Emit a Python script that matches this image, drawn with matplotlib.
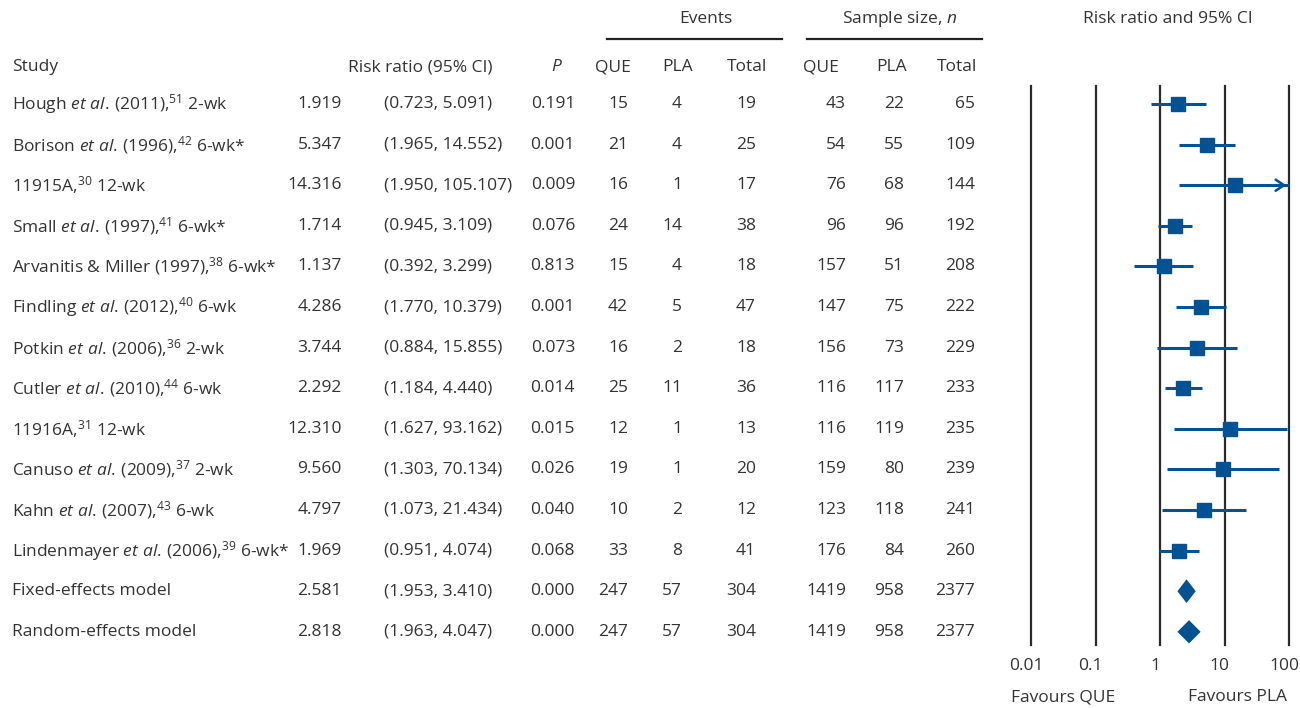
import matplotlib
matplotlib.use("Agg")
import matplotlib.pyplot as plt
from matplotlib.transforms import blended_transform_factory, ScaledTranslation
import numpy as np

plt.rcParams['font.family'] = ['Open Sans', 'DejaVu Sans']
plt.rcParams['mathtext.fontset'] = 'custom'
plt.rcParams['mathtext.rm'] = 'Open Sans'
plt.rcParams['mathtext.it'] = 'Open Sans:italic'
plt.rcParams['mathtext.bf'] = 'Open Sans:bold'

# ---------------- data ----------------
studies = [
    r"Hough $\mathit{et\ al.}\,$(2011),$^{51}$ 2-wk",
    r"Borison $\mathit{et\ al.}\,$(1996),$^{42}$ 6-wk*",
    r"11915A,$^{30}$ 12-wk",
    r"Small $\mathit{et\ al.}\,$(1997),$^{41}$ 6-wk*",
    r"Arvanitis & Miller (1997),$^{38}$ 6-wk*",
    r"Findling $\mathit{et\ al.}\,$(2012),$^{40}$ 6-wk",
    r"Potkin $\mathit{et\ al.}\,$(2006),$^{36}$ 2-wk",
    r"Cutler $\mathit{et\ al.}\,$(2010),$^{44}$ 6-wk",
    r"11916A,$^{31}$ 12-wk",
    r"Canuso $\mathit{et\ al.}\,$(2009),$^{37}$ 2-wk",
    r"Kahn $\mathit{et\ al.}\,$(2007),$^{43}$ 6-wk",
    r"Lindenmayer $\mathit{et\ al.}\,$(2006),$^{39}$ 6-wk*",
    "Fixed-effects model",
    "Random-effects model",
]
rr = [1.919, 5.347, 14.316, 1.714, 1.137, 4.286, 3.744, 2.292, 12.310, 9.560, 4.797, 1.969, 2.581, 2.818]
lo = [0.723, 1.965, 1.950, 0.945, 0.392, 1.770, 0.884, 1.184, 1.627, 1.303, 1.073, 0.951, 1.953, 1.963]
hi = [5.091, 14.552, 105.107, 3.109, 3.299, 10.379, 15.855, 4.440, 93.162, 70.134, 21.434, 4.074, 3.410, 4.047]
pval = ["0.191", "0.001", "0.009", "0.076", "0.813", "0.001", "0.073", "0.014", "0.015", "0.026", "0.040", "0.068", "0.000", "0.000"]
ev_que = [15, 21, 16, 24, 15, 42, 16, 25, 12, 19, 10, 33, 247, 247]
ev_pla = [4, 4, 1, 14, 4, 5, 2, 11, 1, 1, 2, 8, 57, 57]
ev_tot = [19, 25, 17, 38, 18, 47, 18, 36, 13, 20, 12, 41, 304, 304]
n_que = [43, 54, 76, 96, 157, 147, 156, 116, 116, 159, 123, 176, 1419, 1419]
n_pla = [22, 55, 68, 96, 51, 75, 73, 117, 119, 80, 118, 84, 958, 958]
n_tot = [65, 109, 144, 192, 208, 222, 229, 233, 235, 239, 241, 260, 2377, 2377]
n_models = 2
xticks = [0.01, 0.1, 1, 10, 100]
xticklabels = ["0.01", "0.1", "1", "10", "100"]

BLUE = "#005293"
TXT = "#333333"
LINE = "#2b2b2b"
FS = 12.5

W, H = 1300, 708
fig = plt.figure(figsize=(W / 100, H / 100), dpi=100)

# text canvas in pixel coordinates
ax0 = fig.add_axes([0, 0, 1, 1])
ax0.set_xlim(0, W)
ax0.set_ylim(H, 0)
ax0.axis("off")

# forest plot axes
fx0, fx1 = 1031, 1289
fy0, fy1 = 86, 645
ax = fig.add_axes([fx0 / W, 1 - fy1 / H, (fx1 - fx0) / W, (fy1 - fy0) / H])
ax.set_xscale("log")
ax.set_xlim(0.01, 100)
row0, step = 104, 40.6
ax.set_ylim((fy1 - row0) / step, (fy0 - row0) / step)
for s in ax.spines.values():
    s.set_visible(False)
ax.set_yticks([])
ax.set_xticks(xticks)
ax.set_xticklabels(xticklabels)
ax.minorticks_off()
ax.tick_params(axis="x", length=0, pad=9, labelsize=FS, labelcolor=TXT)
shift = ScaledTranslation(-5 / 100, 0, fig.dpi_scale_trans)
for lab in ax.get_xticklabels():
    lab.set_transform(lab.get_transform() + shift)
ax.patch.set_alpha(0)
for xv in xticks:
    ax.axvline(xv, color=LINE, lw=1.6, zorder=1, clip_on=False)

nst = len(rr) - n_models
for i in range(len(rr)):
    if i < nst:
        h = min(hi[i], 100)
        ax.plot([lo[i], h], [i, i], color=BLUE, lw=2.2, zorder=3, solid_capstyle="butt", clip_on=False)
        if hi[i] > 100:
            ax.annotate("", xy=(100, i), xytext=(60, i),
                        arrowprops=dict(arrowstyle="->,head_length=0.6,head_width=0.4", color=BLUE, lw=1.8),
                        annotation_clip=False, zorder=3)
        ax.plot([rr[i]], [i], marker="s", ms=10, color=BLUE, zorder=4, clip_on=False)
    else:
        hh = 0.25
        ax.fill([lo[i], rr[i], hi[i], rr[i]], [i, i - hh, i, i + hh], color=BLUE, zorder=4,
                lw=1.5, edgecolor=BLUE)

# table text
tr = blended_transform_factory(ax0.transData, ax.transData)
for i in range(len(rr)):
    ax0.text(12, i, studies[i], transform=tr, ha="left", va="center", fontsize=FS, color=TXT)
    ax0.text(342, i, f"{rr[i]:.3f}", transform=tr, ha="right", va="center", fontsize=FS, color=TXT)
    ax0.text(384, i, f"({lo[i]:.3f}, {hi[i]:.3f})", transform=tr, ha="left", va="center", fontsize=FS, color=TXT)
    ax0.text(575, i, pval[i], transform=tr, ha="right", va="center", fontsize=FS, color=TXT)
    ax0.text(628, i, str(ev_que[i]), transform=tr, ha="right", va="center", fontsize=FS, color=TXT)
    ax0.text(682, i, str(ev_pla[i]), transform=tr, ha="right", va="center", fontsize=FS, color=TXT)
    ax0.text(756, i, str(ev_tot[i]), transform=tr, ha="right", va="center", fontsize=FS, color=TXT)
    ax0.text(846, i, str(n_que[i]), transform=tr, ha="right", va="center", fontsize=FS, color=TXT)
    ax0.text(904, i, str(n_pla[i]), transform=tr, ha="right", va="center", fontsize=FS, color=TXT)
    ax0.text(975, i, str(n_tot[i]), transform=tr, ha="right", va="center", fontsize=FS, color=TXT)

# headers
hy = 67
ax0.text(12, hy, "Study", ha="left", va="center", fontsize=FS, color=TXT)
ax0.text(492, hy, "Risk ratio (95% CI)", ha="right", va="center", fontsize=FS, color=TXT)
ax0.text(556, hy, "P", ha="center", va="center", fontsize=FS, color=TXT, style="italic")
for x, t in [(613, "QUE"), (678, "PLA"), (747, "Total"), (821, "QUE"), (892, "PLA"), (957, "Total")]:
    ax0.text(x, hy, t, ha="center", va="center", fontsize=FS, color=TXT)
ax0.text(706, 19, "Events", ha="center", va="center", fontsize=FS, color=TXT)
ax0.text(900, 19, r"Sample size, $\mathit{n}$", ha="center", va="center", fontsize=FS, color=TXT)
ax0.plot([607, 782], [39, 39], color="#222222", lw=1.6)
ax0.plot([807, 982], [39, 39], color="#222222", lw=1.6)
ax0.text(1168, 19, "Risk ratio and 95% CI", ha="center", va="center", fontsize=FS, color=TXT)
ax0.text(1063, 697, "Favours QUE", ha="center", va="center", fontsize=FS, color=TXT)
ax0.text(1237, 697, "Favours PLA", ha="center", va="center", fontsize=FS, color=TXT)

fig.savefig("out.png", dpi=100)
